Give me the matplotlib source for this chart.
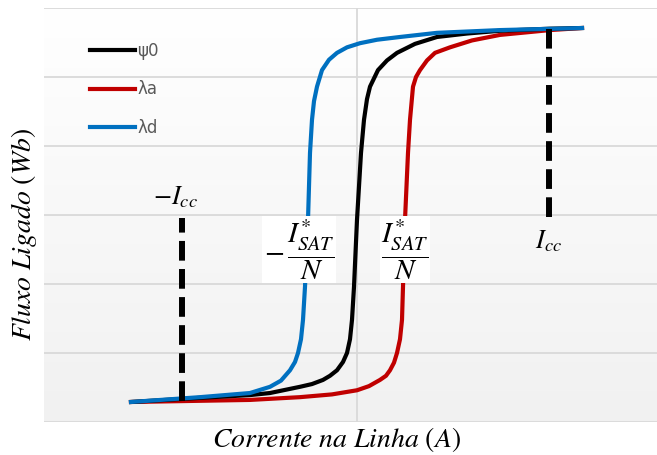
import numpy as np
import matplotlib
matplotlib.use("Agg")
import matplotlib.pyplot as plt

# curve points (x: corrente, y: fluxo)
psi0_x = [-2.26, -1.57, -1.07, -0.87, -0.57, -0.45, -0.34, -0.27, -0.20, -0.14, -0.10, -0.07, -0.05, -0.03,
          0.00, 0.04, 0.07, 0.10, 0.13, 0.21, 0.30, 0.40, 0.58, 0.80, 1.10, 1.43, 1.93, 2.25]
psi0_y = [0.29, 0.35, 0.39, 0.42, 0.51, 0.55, 0.61, 0.67, 0.75, 0.87, 1.00, 1.20, 1.48, 1.96,
          2.93, 3.90, 4.38, 4.68, 4.86, 5.10, 5.24, 5.35, 5.48, 5.58, 5.63, 5.67, 5.70, 5.71]

la_x = [-2.26, -1.07, -0.57, -0.25, 0.00, 0.12, 0.23, 0.29, 0.33, 0.37, 0.40, 0.43, 0.45, 0.46,
        0.48, 0.51, 0.53, 0.56, 0.59, 0.63, 0.70, 0.78, 0.93, 1.15, 1.43, 1.93, 2.25]
la_y = [0.29, 0.32, 0.36, 0.40, 0.46, 0.52, 0.61, 0.67, 0.75, 0.86, 1.00, 1.20, 1.48, 1.96,
        2.93, 3.90, 4.38, 4.86, 5.00, 5.10, 5.24, 5.35, 5.43, 5.53, 5.61, 5.68, 5.71]

ld_x = [-2.26, -1.57, -1.07, -0.87, -0.76, -0.67, -0.62, -0.59, -0.56, -0.54, -0.52,
        -0.49, -0.47, -0.45, -0.43, -0.40, -0.35, -0.28, -0.20, -0.10, 0.03, 0.20, 0.43, 0.80, 1.43, 2.25]
ld_y = [0.29, 0.36, 0.42, 0.51, 0.60, 0.75, 0.87, 1.00, 1.20, 1.48, 1.96,
        2.93, 3.90, 4.38, 4.65, 4.86, 5.10, 5.25, 5.35, 5.43, 5.49, 5.54, 5.58, 5.64, 5.68, 5.71]

icc_neg = -1.75
icc_pos = 1.92
icc_neg_y = [0.30, 2.96]
icc_pos_y = [2.97, 5.70]

plt.rcParams['mathtext.fontset'] = 'stix'

fig = plt.figure(figsize=(6.57, 4.55), dpi=100)
ax = fig.add_axes([44/657, 33/455, 613/657, 414/455])

# background gradient white (top) -> light gray (bottom)
grad = np.linspace(1.0, 0.945, 256).reshape(-1, 1)
ax.imshow(np.dstack([grad, grad, grad]), extent=[-3.13, 3.0, 0, 6], origin='upper',
          aspect='auto', zorder=0)
ax.set_xlim(-3.13, 3.0)
ax.set_ylim(0, 6)

ax.set_xticks([0])
ax.set_yticks(range(7))
ax.grid(True, color='#d9d9d9', linewidth=1.3, zorder=1)
ax.tick_params(length=0, labelbottom=False, labelleft=False)
for s in ax.spines.values():
    s.set_visible(False)

ax.plot(psi0_x, psi0_y, color='black', lw=3.0, label='ψ0', zorder=4, solid_joinstyle='round')
ax.plot(la_x, la_y, color='#c00000', lw=3.0, label='λa', zorder=3, solid_joinstyle='round')
ax.plot(ld_x, ld_y, color='#0070c0', lw=3.0, label='λd', zorder=5, solid_joinstyle='round')

ax.plot([icc_neg, icc_neg], icc_neg_y, color='black', lw=4.3, dashes=(3.3, 1.4), zorder=6)
ax.plot([icc_pos, icc_pos], icc_pos_y, color='black', lw=4.3, dashes=(3.3, 1.4), zorder=6)

ax.text(-1.82, 3.25, r'$-I_{cc}$', fontsize=19, ha='center', va='center', zorder=7)
ax.text(1.92, 2.62, r'$I_{cc}$', fontsize=19, ha='center', va='center', zorder=7)
box = dict(facecolor='white', edgecolor='none', pad=1)
ax.text(-0.58, 2.50, r'$-\,\dfrac{I^{*}_{SAT}}{N}$', fontsize=21, ha='center', va='center',
        bbox=box, zorder=7)
ax.text(0.48, 2.50, r'$\dfrac{I^{*}_{SAT}}{N}$', fontsize=21, ha='center', va='center',
        bbox=box, zorder=7)

leg = ax.legend(loc='upper left', bbox_to_anchor=(0.05, 0.955), frameon=False, fontsize=12,
                handlelength=2.75, handletextpad=0.1, labelspacing=1.25)
for t in leg.get_texts():
    t.set_color('#595959')

fig.text(336/657, 1 - 440/455, r'$Corrente\ na\ Linha\ (A)$', fontsize=20, ha='center', va='center')
fig.text(24/657, 1 - 235/455, r'$Fluxo\ Ligado\ (Wb)$', fontsize=20, ha='center', va='center',
         rotation=90)

fig.savefig('out.png', dpi=100)
